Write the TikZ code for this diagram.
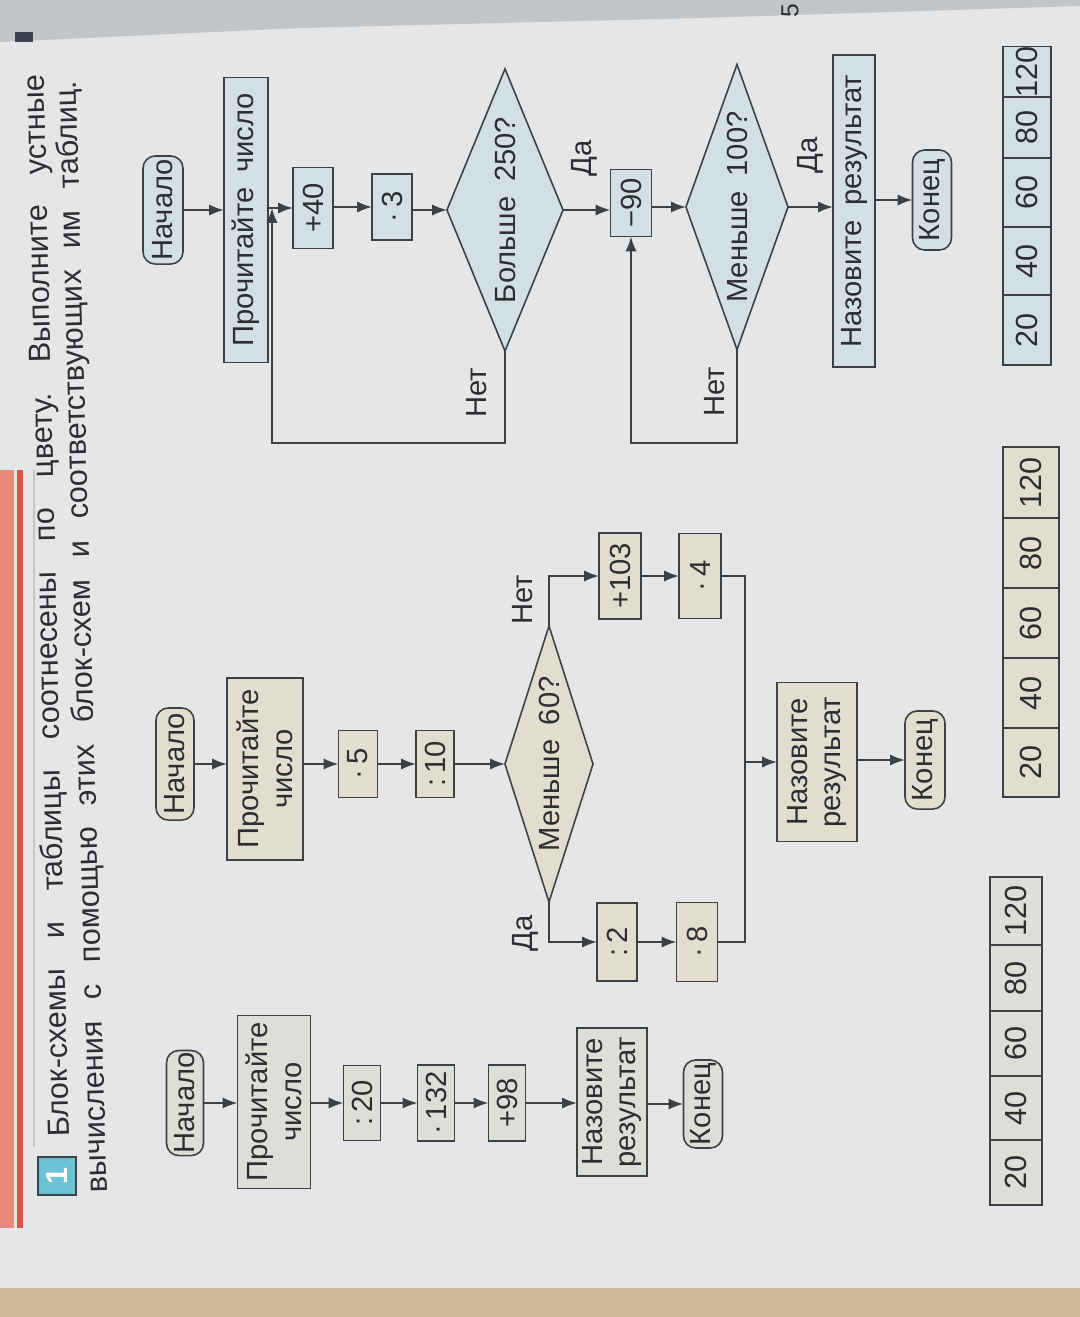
\documentclass[tikz,border=0pt]{standalone}
\usepackage{fontspec}
\setmainfont{Liberation Sans}
\usetikzlibrary{shapes.geometric,arrows.meta}
\frenchspacing

\definecolor{pagebg}{HTML}{E4E6E7}
\definecolor{shadec}{HTML}{C2C5C7}
\definecolor{darkc}{HTML}{3A4250}
\definecolor{tanc}{HTML}{CDBB98}
\definecolor{redc}{HTML}{D9544A}
\definecolor{salmonc}{HTML}{E8897A}
\definecolor{linec}{HTML}{3E4144}
\definecolor{inkc}{HTML}{2C2E31}
\definecolor{fillA}{HTML}{DCDFD7}
\definecolor{fillB}{HTML}{E2DECF}
\definecolor{fillC}{HTML}{D2E0E6}
\definecolor{tealc}{HTML}{6CC2D3}

\newcommand\boxfont{\fontsize{8.3}{9.6}\selectfont}
\newcommand\headfont{\fontsize{8.7}{10}\selectfont}

\tikzset{
  box/.style={draw=linec, fill=#1, line width=0.45pt, rotate=90, inner sep=0pt,
    outer sep=0pt, align=center, font=\boxfont, text=inkc},
  term/.style={box=#1, rounded corners=3.5pt},
  decide/.style={box=#1, diamond, aspect=2.6},
  cell/.style={box=#1, font=\headfont},
  lbl/.style={rotate=90, inner sep=0pt, font=\boxfont, text=inkc},
  arr/.style={draw=linec, line width=0.6pt, -{Latex[length=4.2pt,width=3.2pt]}},
  wire/.style={draw=linec, line width=0.6pt}
}

\begin{document}
\begin{tikzpicture}[x=0.01cm, y=-0.01cm]
\useasboundingbox (0,0) rectangle (1080,1317);
\fill[pagebg] (0,0) rectangle (1080,1317);

%Page edges
\fill[shadec] (0,0) -- (1080,0) -- (1080,6) -- (700,18) -- (300,28) -- (0,42) -- cycle;
\fill[darkc] (15,32) rectangle (33,42);
\fill[tanc] (0,1288) rectangle (1080,1317);
\fill[salmonc] (0,470) rectangle (14,1228); \fill[redc] (17,470) rectangle (23,1228);
\draw[gray!45, line width=0.3pt] (34,470) -- (34,1147);
\node[lbl, font=\fontsize{7}{8}\selectfont] (pagenum) at (790,11) {5};

%Heading
\node[draw=darkc, fill=tealc, rotate=90, minimum size=0.38cm, inner sep=0pt, font=\bfseries\headfont, text=white] (num) at (57,1176) {1};
\node[rotate=91.35, inner sep=0pt, font=\headfont, text=inkc] (head1) at (48.5,606) {\makebox[10.62cm][s]{Блок-схемы и таблицы соотнесены по цвету. Выполните устные}};
\node[rotate=91.6, inner sep=0pt, font=\headfont, text=inkc] (head2) at (83.5,637) {\makebox[11.12cm][s]{вычисления с помощью этих блок-схем и соответствующих им таблиц.}};

%First chart
\node[term=fillA, minimum width=1.05cm, minimum height=0.37cm] (start1) at (185,1103) {Начало};
\node[box=fillA, minimum width=1.73cm, minimum height=0.73cm] (read1) at (274,1102) {Прочитайте\\число};
\node[box=fillA, minimum width=0.75cm, minimum height=0.37cm] (div20) at (362,1103) {:\,20};
\node[box=fillA, minimum width=0.76cm, minimum height=0.37cm] (times132) at (436,1103) {·\,132};
\node[box=fillA, minimum width=0.76cm, minimum height=0.37cm] (plus98) at (507,1103) {+98};
\node[box=fillA, minimum width=1.48cm, minimum height=0.70cm] (name1) at (612,1102) {Назовите\\результат};
\node[term=fillA, minimum width=0.88cm, minimum height=0.39cm] (end1) at (703,1104) {Конец};

\draw[arr] (start1.south) -- (start1.south -| read1.north);
\draw[arr] (read1.south |- div20) -- (div20.north);
\draw[arr] (div20.south) -- (times132.north);
\draw[arr] (times132.south) -- (plus98.north);
\draw[arr] (plus98.south) -- (plus98.south -| name1.north);
\draw[arr] (name1.south |- end1) -- (end1.north);

\node[cell=fillA, minimum width=0.68cm, minimum height=0.52cm] (t1a) at (1016,911) {120};
\node[cell=fillA, minimum width=0.66cm, minimum height=0.52cm] (t1b) at (1016,978) {80};
\node[cell=fillA, minimum width=0.65cm, minimum height=0.52cm] (t1c) at (1016,1043.5) {60};
\node[cell=fillA, minimum width=0.64cm, minimum height=0.52cm] (t1d) at (1016,1108) {40};
\node[cell=fillA, minimum width=0.65cm, minimum height=0.52cm] (t1e) at (1016,1172.5) {20};

%Second chart
\node[term=fillB, minimum width=1.12cm, minimum height=0.38cm] (start2) at (175,764) {Начало};
\node[box=fillB, minimum width=1.82cm, minimum height=0.76cm] (read2) at (265,769) {Прочитайте\\число};
\node[box=fillB, minimum width=0.67cm, minimum height=0.39cm] (times5) at (358,764) {·\,5};
\node[box=fillB, minimum width=0.67cm, minimum height=0.38cm] (div10) at (435,764) {:\,10};
\node[decide=fillB, minimum width=2.76cm, minimum height=0.79cm] (less60) at (549,764) {Меньше\enspace 60?};
\node[box=fillB, minimum width=0.86cm, minimum height=0.42cm] (plus103) at (620,576) {+103};
\node[box=fillB, minimum width=0.85cm, minimum height=0.42cm] (times4) at (700,576) {·\,4};
\node[box=fillB, minimum width=0.78cm, minimum height=0.40cm] (div2) at (617,942) {:\,2};
\node[box=fillB, minimum width=0.79cm, minimum height=0.41cm] (times8) at (697,942) {·\,8};
\node[box=fillB, minimum width=1.59cm, minimum height=0.80cm] (name2) at (817,762) {Назовите\\результат};
\node[term=fillB, minimum width=0.98cm, minimum height=0.40cm] (end2) at (925,760) {Конец};
\node[lbl] (no2) at (523,600) {Нет};
\node[lbl] (yes2) at (525,933) {Да};
\coordinate (join2) at (745,942);

\draw[arr] (start2.south) -- (start2.south -| read2.north);
\draw[arr] (read2.south |- times5) -- (times5.north);
\draw[arr] (times5.south) -- (div10.north);
\draw[arr] (div10.south) -- (less60.north);
\draw[arr] (less60.east) |- (plus103.north);
\draw[arr] (less60.west) |- (div2.north);
\draw[arr] (plus103.south) -- (times4.north);
\draw[arr] (div2.south) -- (times8.north);
\draw[wire] (times4.south) -| (join2) -- (times8.south);
\draw[arr] (join2 |- name2) -- (name2.north);
\draw[arr] (name2.south |- end2) -- (end2.north);

\node[cell=fillB, minimum width=0.71cm, minimum height=0.56cm] (t2a) at (1031,482.5) {120};
\node[cell=fillB, minimum width=0.70cm, minimum height=0.56cm] (t2b) at (1031,553) {80};
\node[cell=fillB, minimum width=0.70cm, minimum height=0.56cm] (t2c) at (1031,623) {60};
\node[cell=fillB, minimum width=0.70cm, minimum height=0.56cm] (t2d) at (1031,693) {40};
\node[cell=fillB, minimum width=0.69cm, minimum height=0.56cm] (t2e) at (1031,762.5) {20};

%Third chart
\node[term=fillC, minimum width=1.08cm, minimum height=0.40cm] (start3) at (163,210) {Начало};
\node[box=fillC, minimum width=2.85cm, minimum height=0.44cm] (read3) at (246,220) {Прочитайте\enspace число};
\node[box=fillC, minimum width=0.81cm, minimum height=0.40cm] (plus40) at (313,208) {+40};
\node[box=fillC, minimum width=0.66cm, minimum height=0.40cm] (times3) at (392,207) {·\,3};
\node[decide=fillC, minimum width=2.82cm, minimum height=1.16cm] (more250) at (505,210) {Больше\enspace 250?};
\node[box=fillC, minimum width=0.67cm, minimum height=0.41cm] (minus90) at (631,203) {−90};
\node[decide=fillC, minimum width=2.85cm, minimum height=1.02cm] (less100) at (737,207) {Меньше\enspace 100?};
\node[box=fillC, minimum width=3.12cm, minimum height=0.42cm] (name3) at (854,211) {Назовите\enspace результат};
\node[term=fillC, minimum width=1.00cm, minimum height=0.39cm] (end3) at (932,200) {Конец};
\node[lbl] (no3a) at (477,393) {Нет};
\node[lbl] (yes3a) at (584,158) {Да};
\node[lbl] (no3b) at (715,392) {Нет};
\node[lbl] (yes3b) at (810,155) {Да};
\coordinate (back3a) at (272,443);
\coordinate (back3b) at (631,443);

\draw[arr] (start3.south) -- (start3.south -| read3.north);
\draw[arr] (read3.south |- plus40) -- (plus40.north);
\draw[arr] (plus40.south |- times3) -- (times3.north);
\draw[arr] (times3.south |- more250) -- (more250.north);
\draw[arr] (more250.south) -- (more250.south -| minus90.north);
\draw[arr] (minus90.south |- less100) -- (less100.north);
\draw[arr] (less100.south) -- (less100.south -| name3.north);
\draw[arr] (name3.south |- end3) -- (end3.north);
\draw[arr] (more250.west) |- (back3a) -- (back3a |- plus40);
\draw[arr] (less100.west) |- (back3b) -- (minus90.west);

\node[cell=fillC, minimum width=0.50cm, minimum height=0.48cm] (t3a) at (1027,72) {120};
\node[cell=fillC, minimum width=0.61cm, minimum height=0.48cm] (t3b) at (1027,127.5) {80};
\node[cell=fillC, minimum width=0.69cm, minimum height=0.48cm] (t3c) at (1027,192.5) {60};
\node[cell=fillC, minimum width=0.68cm, minimum height=0.48cm] (t3d) at (1027,261) {40};
\node[cell=fillC, minimum width=0.70cm, minimum height=0.48cm] (t3e) at (1027,330) {20};

\end{tikzpicture}
\end{document}
